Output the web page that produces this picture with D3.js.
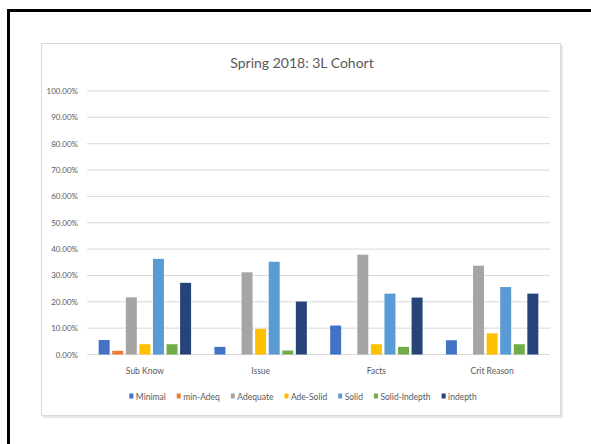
<!DOCTYPE html>
<html>
<head>
<meta charset="utf-8">
<script src="https://cdn.jsdelivr.net/npm/d3@7"></script>
<style>
  body { margin: 0; background: #fff; }
  svg { display: block; font-family: Lato, "Open Sans", sans-serif; }
</style>
</head>
<body>
<svg id="chart" width="591" height="444"></svg>
<script>
const categories = ["Sub Know", "Issue", "Facts", "Crit Reason"];
const series = ["Minimal", "min-Adeq", "Adequate", "Ade-Solid", "Solid", "Solid-Indepth", "indepth"];
const colors = ["#4472C4", "#ED7D31", "#A5A5A5", "#FFC000", "#5B9BD5", "#70AD47", "#264478"];

// percent values, one array per category, in series order
const subKnow = [5.5, 1.4, 21.7, 3.9, 36.3, 3.9, 27.2];
const issue = [2.9, 0, 31.2, 9.7, 35.2, 1.5, 20.1];
const facts = [11.0, 0, 37.9, 3.9, 23.1, 2.9, 21.6];
const critReason = [5.4, 0, 33.7, 8.0, 25.6, 3.9, 23.1];
const values = [subKnow, issue, facts, critReason];

const yTicks = [0, 10, 20, 30, 40, 50, 60, 70, 80, 90, 100];

const svg = d3.select("#chart");
const textColor = "#595959";

// outer black frame (runs off right/bottom edge)
svg.append("rect")
    .attr("x", 8.5).attr("y", 10.5)
    .attr("width", 600).attr("height", 450)
    .attr("fill", "none")
    .attr("stroke", "#000")
    .attr("stroke-width", 3);

// chart area border with soft shadow
svg.append("rect")
    .attr("x", 43).attr("y", 45)
    .attr("width", 520).attr("height", 373)
    .attr("fill", "#e6e6e6");
svg.append("rect")
    .attr("x", 41.5).attr("y", 43.5)
    .attr("width", 519).attr("height", 372)
    .attr("fill", "#fff")
    .attr("stroke", "#d9d9d9");

// title
svg.append("text")
    .attr("x", 302)
    .attr("y", 68)
    .attr("text-anchor", "middle")
    .style("font-size", "14px")
    .style("fill", textColor)
    .text("Spring 2018: 3L Cohort");

const plot = { left: 87, right: 550, top: 91, bottom: 354.5 };

const x0 = d3.scaleBand()
    .domain(categories)
    .range([plot.left, plot.right]);

const groupW = 95;
const x1 = d3.scaleBand()
    .domain(series)
    .range([0, groupW])
    .paddingInner(0.19)
    .paddingOuter(0.095);

const y = d3.scaleLinear()
    .domain([0, 100])
    .range([plot.bottom, plot.top]);

// gridlines
svg.append("g")
    .selectAll("line")
    .data(yTicks)
    .join("line")
    .attr("x1", plot.left)
    .attr("x2", plot.right)
    .attr("y1", d => y(d))
    .attr("y2", d => y(d))
    .attr("stroke", "#d9d9d9")
    .attr("stroke-width", 1);

// y tick labels
svg.append("g")
    .selectAll("text")
    .data(yTicks)
    .join("text")
    .attr("x", 78)
    .attr("y", d => y(d) + 3)
    .attr("text-anchor", "end")
    .style("font-size", "8px")
    .style("fill", textColor)
    .text(d => d.toFixed(2) + "%");

// bars
const groups = svg.append("g")
    .selectAll("g")
    .data(categories)
    .join("g")
    .attr("transform", d => `translate(${x0(d) + (x0.bandwidth() - groupW) / 2},0)`);

groups.selectAll("rect")
    .data((c, i) => series.map((s, j) => ({ s, v: values[i][j], color: colors[j] })))
    .join("rect")
    .attr("x", d => x1(d.s))
    .attr("width", x1.bandwidth())
    .attr("y", d => y(d.v))
    .attr("height", d => y(0) - y(d.v))
    .attr("fill", d => d.color);

// category labels
svg.append("g")
    .selectAll("text")
    .data(categories)
    .join("text")
    .attr("x", d => x0(d) + x0.bandwidth() / 2)
    .attr("y", 374)
    .attr("text-anchor", "middle")
    .style("font-size", "8.5px")
    .style("fill", textColor)
    .text(d => d);

// legend, laid out left to right then centred
const legend = svg.append("g");
const items = legend.selectAll("g")
    .data(series)
    .join("g");

items.append("rect")
    .attr("x", 0).attr("y", -3.5)
    .attr("width", 4).attr("height", 5)
    .attr("fill", (d, i) => colors[i]);

items.append("text")
    .attr("x", 6.5)
    .attr("y", 2.5)
    .style("font-size", "8.5px")
    .style("fill", textColor)
    .text(d => d);

let cursor = 0;
items.each(function () {
    const w = 6.5 + d3.select(this).select("text").node().getComputedTextLength();
    d3.select(this).attr("transform", `translate(${cursor},0)`);
    cursor += w + 11;
});
const legendW = cursor - 11;
legend.attr("transform", `translate(${303 - legendW / 2},397)`);
</script>
</body>
</html>
